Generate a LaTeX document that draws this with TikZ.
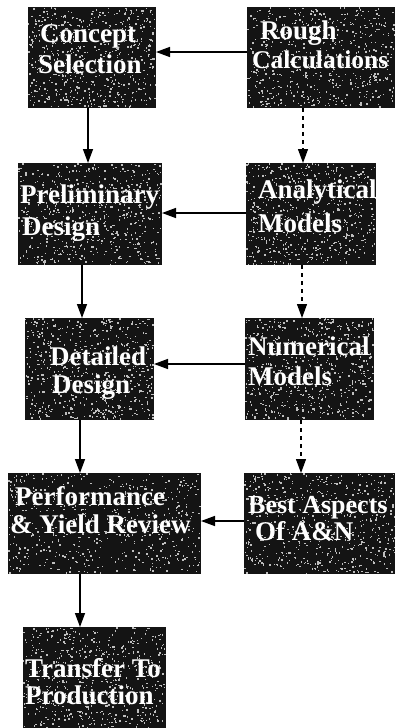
\documentclass[tikz,border=0pt]{standalone}
\usepackage{fontspec}
\setmainfont{Liberation Serif}
\usetikzlibrary{arrows.meta,fit}
\newcommand\speckbox[5]{%
  \node[box,fit={(#2,#3)(#4,#5)}] (#1) {};
  \foreach \k in {1,...,600}{%
    \pgfmathsetmacro\rx{#2+rnd*(#4-#2-1.4)}%
    \pgfmathsetmacro\ry{#3+rnd*(#5-#3-1.4)}%
    \fill[speck] (\rx,\ry) rectangle +(1.4,1.4);}%
}
\begin{document}
\begin{tikzpicture}[x=1pt,y=-1pt,
  box/.style={draw=none,fill=black!92,inner sep=0pt,outer sep=0pt},
  speck/.style={fill=white!75!black},
  lbl/.style={text=white,font=\bfseries\fontsize{27}{31}\selectfont,inner sep=0pt,anchor=base west},
  arr/.style={line width=1.4pt,-{Triangle[length=14pt,width=10pt]}},
  darr/.style={line width=1.1pt,dash pattern=on 4pt off 4pt,-{Triangle[length=14pt,width=10pt]}}]
\useasboundingbox (0,0) rectangle (395,728);
\pgfmathsetseed{12345}
\speckbox{concept}{28}{7}{156}{108}
\speckbox{rough}{247}{7}{396}{108}
\speckbox{prelim}{18}{163}{162}{265}
\speckbox{analytical}{246}{163}{376}{265}
\speckbox{detailed}{25}{318}{154}{420}
\speckbox{numerical}{245}{318}{374}{420}
\speckbox{perf}{8}{473}{201}{574}
\speckbox{best}{244}{473}{396}{574}
\speckbox{transfer}{23}{627}{166}{729}

\node[lbl] (t1a) at (40,42) {Concept};
\node[lbl] (t1b) at (38,73) {Selection};
\node[lbl] (t2a) at (260,39) {Rough};
\node[lbl,font=\bfseries\fontsize{25.5}{31}\selectfont] (t2b) at (252,68) {Calculations};
\node[lbl] (t3a) at (20,203) {Preliminary};
\node[lbl] (t3b) at (22,235) {Design};
\node[lbl] (t4a) at (258,198) {Analytical};
\node[lbl] (t4b) at (258,232) {Models};
\node[lbl] (t5a) at (50,365) {Detailed};
\node[lbl] (t5b) at (52,393) {Design};
\node[lbl] (t6a) at (248,355) {Numerical};
\node[lbl] (t6b) at (248,385) {Models};
\node[lbl] (t7a) at (15,505) {Performance};
\node[lbl] (t7b) at (10,533) {\& Yield Review};
\node[lbl,font=\bfseries\fontsize{26}{31}\selectfont] (t8a) at (248,513) {Best Aspects};
\node[lbl] (t8b) at (255,540) {Of A\&N};
\node[lbl] (t9a) at (25,677) {Transfer To};
\node[lbl] (t9b) at (25,704) {Production};

\coordinate (h1) at (0,52);
\coordinate (h2) at (0,213);
\coordinate (h3) at (0,364);
\coordinate (h4) at (0,521);
\draw[arr] (rough.west |- h1) -- (concept.east |- h1);
\draw[arr] (analytical.west |- h2) -- (prelim.east |- h2);
\draw[arr] (numerical.west |- h3) -- (detailed.east |- h3);
\draw[arr] (best.west |- h4) -- (perf.east |- h4);

\coordinate (v1) at (88,0);
\coordinate (v2) at (82,0);
\coordinate (v3) at (80,0);
\draw[arr] (concept.south -| v1) -- (prelim.north -| v1);
\draw[arr] (prelim.south -| v2) -- (detailed.north -| v2);
\draw[arr] (detailed.south -| v3) -- (perf.north -| v3);
\draw[arr] (perf.south -| v3) -- (transfer.north -| v3);

\coordinate (d1) at (303,0);
\coordinate (d2) at (302,0);
\coordinate (d3) at (301,0);
\draw[darr] (rough.south -| d1) -- (analytical.north -| d1);
\draw[darr] (analytical.south -| d2) -- (numerical.north -| d2);
\draw[darr] (numerical.south -| d3) -- (best.north -| d3);
\end{tikzpicture}
\end{document}
